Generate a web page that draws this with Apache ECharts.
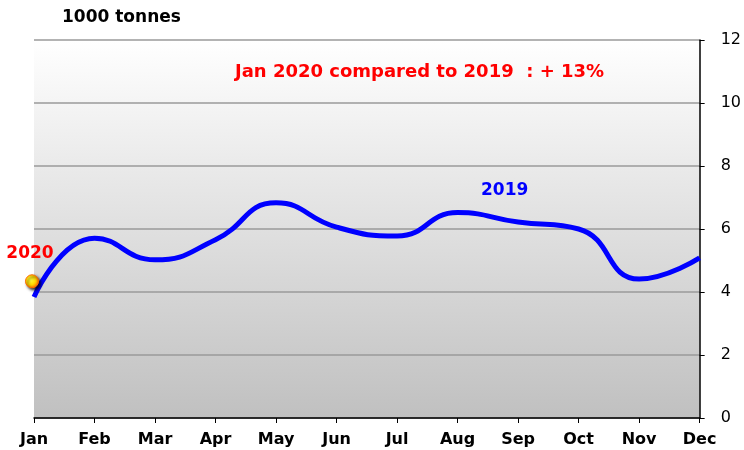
<!DOCTYPE html>
<html>
<head>
<meta charset="utf-8">
<script src="https://cdn.jsdelivr.net/npm/echarts@6/dist/echarts.min.js"></script>
<style>
  html, body { margin: 0; padding: 0; background: #ffffff; }
  #chart { width: 744px; height: 450px; }
</style>
</head>
<body>
<div id="chart"></div>
<script>
// Monthly volumes, in 1000 tonnes
const months = ['Jan', 'Feb', 'Mar', 'Apr', 'May', 'Jun', 'Jul', 'Aug', 'Sep', 'Oct', 'Nov', 'Dec'];
const values2019 = [3.84, 5.71, 5.02, 5.66, 6.83, 6.06, 5.78, 6.52, 6.22, 6.0, 4.41, 5.08];
const values2020 = [4.34];
const yTicks = [0, 2, 4, 6, 8, 10, 12];

const chart = echarts.init(document.getElementById('chart'));
const FONT = 'DejaVu Sans';

chart.setOption({
  animation: false,
  backgroundColor: '#ffffff',
  grid: {
    left: 34, right: 44, top: 40, bottom: 32,
    show: true,
    borderWidth: 0,
    backgroundColor: new echarts.graphic.LinearGradient(0, 0, 0, 1, [
      { offset: 0, color: '#ffffff' },
      { offset: 1, color: '#c0c0c0' }
    ])
  },
  title: {
    text: '1000 tonnes',
    left: 57, top: 4,
    textStyle: { fontFamily: FONT, fontWeight: 'bold', fontSize: 17, color: '#000000' }
  },
  xAxis: {
    type: 'category',
    data: months,
    boundaryGap: false,
    axisLine: { show: true, lineStyle: { color: '#000000', width: 1.5 } },
    axisTick: { show: true, length: 5, lineStyle: { color: '#000000' } },
    axisLabel: {
      fontFamily: FONT, fontWeight: 'bold', fontSize: 16,
      color: '#000000', margin: 14
    },
    splitLine: { show: false }
  },
  yAxis: {
    type: 'value',
    position: 'right',
    min: yTicks[0], max: yTicks[yTicks.length - 1], interval: 2,
    axisLine: { show: true, lineStyle: { color: '#000000', width: 1.5 } },
    axisTick: { show: true, length: 5, lineStyle: { color: '#000000' } },
    axisLabel: { fontFamily: FONT, fontSize: 16, color: '#000000', margin: 21 },
    splitLine: { show: true, lineStyle: { color: '#9a9a9a', width: 1.5 } }
  },
  series: [
    {
      name: '2019',
      type: 'line',
      data: values2019,
      smooth: 0.5,
      symbol: 'none',
      lineStyle: { color: '#0000ff', width: 5 },
      z: 3
    },
    {
      name: '2020',
      type: 'line',
      data: values2020,
      symbol: 'circle',
      symbolSize: 13,
      symbolOffset: [-2, 0],
      itemStyle: {
        color: new echarts.graphic.RadialGradient(0.4, 0.4, 0.6, [
          { offset: 0, color: '#ffff40' },
          { offset: 0.6, color: '#ffd800' },
          { offset: 1, color: '#ff7000' }
        ]),
        borderColor: '#ff6a00',
        borderWidth: 1,
        shadowColor: 'rgba(0,0,0,0.8)',
        shadowBlur: 3,
        shadowOffsetX: 2,
        shadowOffsetY: 2
      },
      label: {
        show: true,
        position: 'top',
        distance: 12,
        offset: [-2, 0],
        formatter: '2020',
        fontFamily: FONT, fontWeight: 'bold', fontSize: 17, color: '#ff0000'
      },
      z: 4
    }
  ],
  graphic: [
    {
      type: 'text',
      left: 235, top: 63,
      style: {
        text: 'Jan 2020 compared to 2019  : + 13%',
        fontFamily: FONT, fontWeight: 'bold', fontSize: 18, fill: '#ff0000'
      }
    },
    {
      type: 'text',
      left: 481, top: 182,
      style: {
        text: '2019',
        fontFamily: FONT, fontWeight: 'bold', fontSize: 17, fill: '#0000ff'
      }
    }
  ]
});
</script>
</body>
</html>
